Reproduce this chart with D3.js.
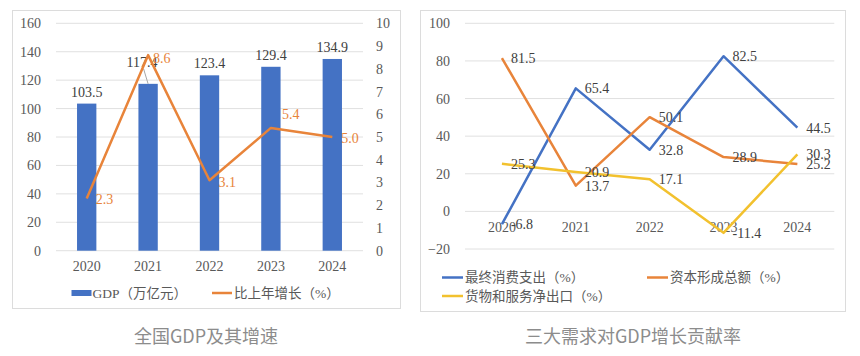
<!DOCTYPE html>
<html><head><meta charset="utf-8">
<script src="https://cdn.jsdelivr.net/npm/d3@7"></script>
<style>
html,body{margin:0;padding:0;background:#fff;}
svg{display:block;}
</style></head>
<body>
<svg id="c" width="860" height="356"></svg>
<script>
// ---------- Data ----------
const years = ["2020", "2021", "2022", "2023", "2024"];
const gdp = [103.5, 117.4, 123.4, 129.4, 134.9];
const gdpGrowth = [2.3, 8.6, 3.1, 5.4, 5.0];
const leftTicks = [0, 20, 40, 60, 80, 100, 120, 140, 160];
const rightTicks = [0,1,2,3,4,5,6,7,8,9,10];

const consumption = [-6.8, 65.4, 32.8, 82.5, 44.5];
const capital = [81.5, 13.7, 50.1, 28.9, 25.2];
const netExports = [25.3, 20.9, 17.1, -11.4, 30.3];
const contribTicks = [-20, 0, 20, 40, 60, 80, 100];

const leftTitle = "全国GDP及其增速";
const rightTitle = "三大需求对GDP增长贡献率";

// ---------- Style ----------
const FS = 14;
const serif = "'Liberation Serif','Times New Roman','Noto Sans CJK SC',serif";
const cjkSerif = "'Liberation Serif','Noto Sans CJK SC',serif";
const sans = "'Noto Sans CJK SC','Noto Sans',sans-serif";
const BLUE = "#4472C4", ORANGE = "#E8843A", YELLOW = "#F2C12E";
const GRID = "#e0e0e0", AXIS_TXT = "#595959", LBL = "#404040";

const svg = d3.select("#c");

// panel borders
svg.append("rect").attr("x",12.5).attr("y",10.5).attr("width",388).attr("height",298)
  .attr("fill","none").attr("stroke","#dcdcdc");
svg.append("rect").attr("x",420.5).attr("y",10.5).attr("width",425).attr("height",301)
  .attr("fill","none").attr("stroke","#dcdcdc");

// ================= LEFT CHART =================
const x1 = d3.scaleBand().domain(years).range([56, 363]).padding(0);
const yL = d3.scaleLinear().domain([0,160]).range([250.7, 23.3]);
const yR = d3.scaleLinear().domain([0,10]).range([250.7, 23.3]);

const g1 = svg.append("g");
g1.selectAll(".g").data(leftTicks).join("line")
  .attr("x1",56).attr("x2",363).attr("y1",d=>yL(d)).attr("y2",d=>yL(d))
  .attr("stroke",GRID).attr("stroke-width",1);

const axL = d3.axisLeft(yL).tickValues(leftTicks).tickSize(0).tickPadding(0);
g1.append("g").attr("transform","translate(41,0)").call(axL)
  .call(g=>g.select(".domain").remove())
  .selectAll("text").attr("font-family",serif).attr("font-size",FS).attr("fill",AXIS_TXT);
const axR = d3.axisRight(yR).tickValues(rightTicks).tickSize(0).tickPadding(0);
g1.append("g").attr("transform","translate(376,0)").call(axR)
  .call(g=>g.select(".domain").remove())
  .selectAll("text").attr("font-family",serif).attr("font-size",FS).attr("fill",AXIS_TXT);
const axB = d3.axisBottom(x1).tickSize(0).tickPadding(0);
g1.append("g").attr("transform","translate(0,261.5)").call(axB)
  .call(g=>g.select(".domain").remove())
  .selectAll("text").attr("font-family",serif).attr("font-size",FS).attr("fill",AXIS_TXT);

// bars
const bw = x1.bandwidth()*0.315;
g1.selectAll(".bar").data(gdp).join("rect")
  .attr("x",(d,i)=>x1(years[i])+x1.bandwidth()/2-bw/2)
  .attr("y",d=>yL(d)).attr("width",bw).attr("height",d=>yL(0)-yL(d))
  .attr("fill",BLUE);

// bar labels (manual label placement offsets)
const barLabelShift = [[0,0],[-6,-10],[0,0],[0,0],[0,0]];
g1.append("line")
  .attr("x1",x1(years[1])+x1.bandwidth()/2-4.5).attr("y1",yL(gdp[1])-15)
  .attr("x2",x1(years[1])+x1.bandwidth()/2).attr("y2",yL(gdp[1]))
  .attr("stroke","#a6a6a6").attr("stroke-width",1);
g1.selectAll(".bl").data(gdp).join("text")
  .attr("x",(d,i)=>x1(years[i])+x1.bandwidth()/2+barLabelShift[i][0])
  .attr("y",(d,i)=>yL(d)-12+barLabelShift[i][1])
  .attr("dy","0.35em").attr("text-anchor","middle")
  .attr("font-family",serif).attr("font-size",FS).attr("fill",LBL)
  .text(d=>d.toFixed(1));

// growth line
const lineG = d3.line().x((d,i)=>x1(years[i])+x1.bandwidth()/2).y(d=>yR(d));
g1.append("path").datum(gdpGrowth).attr("d",lineG)
  .attr("fill","none").attr("stroke",ORANGE).attr("stroke-width",2.5).attr("stroke-linejoin","round");
const growthLabelShift = [[9,1],[5,3],[9,1.5],[11,-14],[9,0.7]];
g1.selectAll(".gl").data(gdpGrowth).join("text")
  .attr("x",(d,i)=>x1(years[i])+x1.bandwidth()/2+growthLabelShift[i][0])
  .attr("y",(d,i)=>yR(d)+growthLabelShift[i][1])
  .attr("dy","0.35em")
  .attr("font-family",serif).attr("font-size",FS).attr("fill",ORANGE)
  .text(d=>d.toFixed(1));

// legend left
g1.append("rect").attr("x",71.5).attr("y",290).attr("width",20).attr("height",6).attr("fill",BLUE);
g1.append("text").attr("x",92.5).attr("y",293).attr("dy","0.35em")
  .attr("font-family",cjkSerif).attr("font-size",13.5).attr("fill",AXIS_TXT).text("GDP（万亿元）");
g1.append("line").attr("x1",212).attr("x2",232).attr("y1",293).attr("y2",293)
  .attr("stroke",ORANGE).attr("stroke-width",2.5);
g1.append("text").attr("x",234).attr("y",293).attr("dy","0.35em")
  .attr("font-family",cjkSerif).attr("font-size",13.5).attr("fill",AXIS_TXT).text("比上年增长（%）");

svg.append("text").attr("x",206).attr("y",337).attr("dy","0.35em").attr("text-anchor","middle")
  .attr("font-family",sans).attr("font-size",18).attr("fill","#8c8c8c").text(leftTitle);

// ================= RIGHT CHART =================
const x2 = d3.scaleBand().domain(years).range([465, 834.3]).padding(0);
const y2 = d3.scaleLinear().domain([-20,100]).range([249, 23.3]);
const g2 = svg.append("g");
g2.selectAll(".g").data(contribTicks).join("line")
  .attr("x1",465).attr("x2",834.3).attr("y1",d=>y2(d)).attr("y2",d=>y2(d))
  .attr("stroke",GRID).attr("stroke-width",1);
const ax2 = d3.axisLeft(y2).tickValues(contribTicks).tickSize(0).tickPadding(0);
g2.append("g").attr("transform","translate(450,0)").call(ax2)
  .call(g=>g.select(".domain").remove())
  .selectAll("text").attr("font-family",serif).attr("font-size",FS).attr("fill",AXIS_TXT);
const ax2b = d3.axisBottom(x2).tickSize(0).tickPadding(0);
g2.append("g").attr("transform","translate(0,222.5)").call(ax2b)
  .call(g=>g.select(".domain").remove())
  .selectAll("text").attr("font-family",serif).attr("font-size",FS).attr("fill",AXIS_TXT);

const series = [
  {name:"最终消费支出（%）", values:consumption, color:BLUE},
  {name:"资本形成总额（%）", values:capital, color:ORANGE},
  {name:"货物和服务净出口（%）", values:netExports, color:YELLOW}
];
const line2 = d3.line().x((d,i)=>x2(years[i])+x2.bandwidth()/2).y(d=>y2(d));
series.forEach(s=>{
  g2.append("path").datum(s.values).attr("d",line2)
    .attr("fill","none").attr("stroke",s.color).attr("stroke-width",2.5).attr("stroke-linejoin","round");
});
series.forEach(s=>{
  g2.selectAll(null).data(s.values).join("text")
    .attr("x",(d,i)=>x2(years[i])+x2.bandwidth()/2+9)
    .attr("y",d=>y2(d)).attr("dy","0.35em")
    .attr("font-family",serif).attr("font-size",FS).attr("fill",LBL)
    .text(d=>d.toFixed(1));
});

// legend right
const legPos = [[442,277.5],[647,277.5],[442,296]];
series.forEach((s,i)=>{
  const [lx,ly] = legPos[i];
  g2.append("line").attr("x1",lx).attr("x2",lx+21).attr("y1",ly).attr("y2",ly)
    .attr("stroke",s.color).attr("stroke-width",2.5);
  g2.append("text").attr("x",lx+23).attr("y",ly).attr("dy","0.35em")
    .attr("font-family",cjkSerif).attr("font-size",13.5).attr("fill",AXIS_TXT).text(s.name);
});

svg.append("text").attr("x",633).attr("y",337).attr("dy","0.35em").attr("text-anchor","middle")
  .attr("font-family",sans).attr("font-size",18).attr("fill","#8c8c8c").text(rightTitle);
</script>
</body></html>
